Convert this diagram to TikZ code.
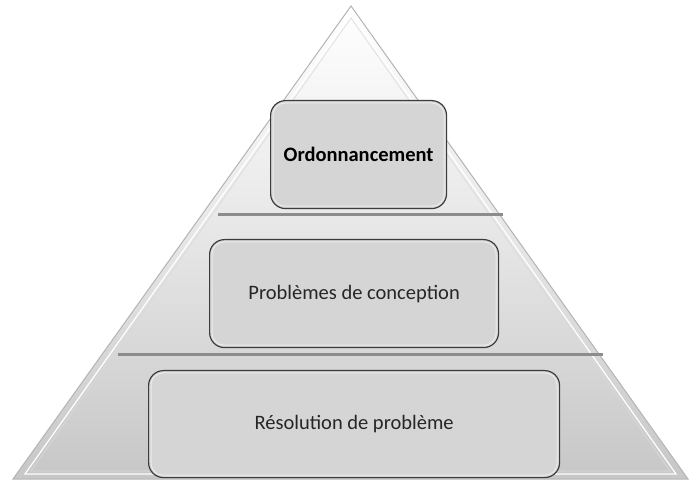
\documentclass[tikz,border=0pt]{standalone}
\usepackage{fontspec}
\setmainfont{Carlito}
\usetikzlibrary{shadings}
\definecolor{boxfill}{HTML}{D5D5D5}
\definecolor{boxline}{HTML}{3C3C3C}
\definecolor{sepline}{HTML}{8C8C8C}
\definecolor{edgegray}{HTML}{B4B4B4}
\definecolor{txt}{HTML}{262626}
\tikzset{
  levelbox/.style={draw=boxline, line width=1.2pt, fill=boxfill, rounded corners=15pt,
    inner sep=0pt, font=\fontsize{20.5}{24}\selectfont, text=txt, anchor=north west},
  separator/.style={draw=sepline, line width=3pt},
}
\begin{document}
\begin{tikzpicture}[x=1pt,y=-1pt]
\useasboundingbox (0,0) rectangle (689,481);
% pyramid body
\coordinate (apex) at (351,6);
\coordinate (bl) at (13,479);
\coordinate (br) at (688,479);
\shade[top color=white, bottom color=white!78!black, middle color=white!90!black]
  (apex) -- (br) -- (bl) -- cycle;
\draw[edgegray, line width=1pt, line join=miter] (apex) -- (br) -- (bl) -- cycle;
\draw[white, line width=1.2pt] (351,14) -- (676,474) -- (25,474) -- cycle;
\draw[white!85!black, line width=0.6pt] (351,18) -- (670,471) -- (31,471) -- cycle;
% separators
\coordinate (s1a) at (218,215);
\coordinate (s1b) at (503,215);
\coordinate (s2a) at (118,355);
\coordinate (s2b) at (603,355);
\draw[separator] (s1a) -- (s1b);
\draw[separator] (s2a) -- (s2b);
% boxes
\node[levelbox, minimum width=176pt, minimum height=108pt] (top) at (270,100)
  {\textbf{\textcolor{black}{Ordonnancement}}};
\node[levelbox, minimum width=289pt, minimum height=108pt] (mid) at (209,239)
  {Problèmes de conception};
\node[levelbox, minimum width=411pt, minimum height=107pt] (bot) at (148,370)
  {Résolution de problème};
% inner highlights
\foreach \n in {top,mid,bot}{
  \draw[white!92!black, line width=1pt, rounded corners=12pt]
    ([xshift=3pt,yshift=-3pt]\n.north west) rectangle ([xshift=-3pt,yshift=3pt]\n.south east);
}
\end{tikzpicture}
\end{document}
